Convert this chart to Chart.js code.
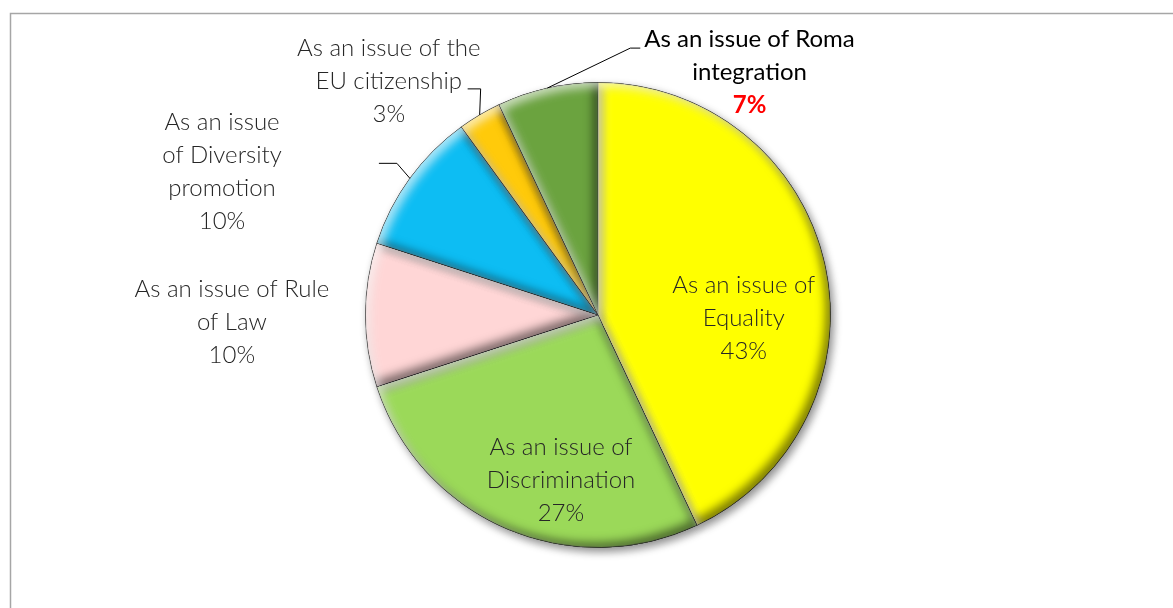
<!DOCTYPE html>
<html>
<head>
<meta charset="utf-8">
<script src="https://cdn.jsdelivr.net/npm/chart.js@4/dist/chart.umd.min.js"></script>
<style>
  body { margin: 0; background: #fff; }
  canvas { display: block; }
</style>
</head>
<body>
<canvas id="chart" width="1173" height="608"></canvas>
<script>
// DATA
const categories = [
  "As an issue of Equality",
  "As an issue of Discrimination",
  "As an issue of Rule of Law",
  "As an issue of Diversity promotion",
  "As an issue of the EU citizenship",
  "As an issue of Roma integration"
];
const shares = [43, 27, 10, 10, 3, 7];
const labelLines = [
  ["As an issue of", "Equality"],
  ["As an issue of", "Discrimination"],
  ["As an issue of Rule", "of Law"],
  ["As an issue", "of Diversity", "promotion"],
  ["As an issue of the", "EU citizenship"],
  ["As an issue of Roma", "integration"]
];
const sliceColors = ["#FFFF00", "#9BD959", "#FFD6D6", "#0DBDF3", "#FFCA0A", "#6BA33F"];

// label placement: angle (deg, canvas) and distance as fraction of radius
const labelPos = [[1.2, 0.627], [102.6, 0.73], [178.9, 1.575], [200.8, 1.73], [228.2, 1.35], [-58, 1.23]];
// leader lines: elbow offset from slice edge, then horizontal run
const leaders = [null, null, null, [-13, -15, -18], [1, -26, -13], [83, -40, 10]];

const FONT = "Lato, 'Open Sans', sans-serif";

function arcPath(ctx, a) {
  ctx.moveTo(a.x, a.y);
  ctx.arc(a.x, a.y, a.outerRadius, a.startAngle, a.endAngle);
  ctx.closePath();
}

// drop shadow under the pie
const shadowPlugin = {
  id: "shadow",
  beforeDatasetsDraw(chart) {
    const ctx = chart.ctx;
    ctx.save();
    ctx.shadowColor = "rgba(0,0,0,0.45)";
    ctx.shadowBlur = 9;
    ctx.shadowOffsetX = 3;
    ctx.shadowOffsetY = 4;
  },
  afterDatasetsDraw(chart) {
    chart.ctx.restore();
  }
};

// bevel look via inner shadows
const bevelPlugin = {
  id: "bevel",
  afterDatasetsDraw(chart) {
    const ctx = chart.ctx;
    chart.getDatasetMeta(0).data.forEach(el => {
      const a = el.getProps(["x", "y", "startAngle", "endAngle", "outerRadius"], true);
      [["rgba(0,0,0,0.5)", -5, -5], ["rgba(255,255,255,0.65)", 5, 5]].forEach(s => {
        ctx.save();
        ctx.beginPath();
        arcPath(ctx, a);
        ctx.clip();
        ctx.beginPath();
        ctx.rect(-2000, -2000, 5000, 5000);
        arcPath(ctx, a);
        ctx.shadowColor = s[0];
        ctx.shadowBlur = 10;
        ctx.shadowOffsetX = s[1];
        ctx.shadowOffsetY = s[2];
        ctx.fillStyle = "#000";
        ctx.fill("evenodd");
        ctx.restore();
      });
    });
  }
};

// labels and leader lines
const labelPlugin = {
  id: "labels",
  afterDraw(chart) {
    const ctx = chart.ctx;
    const meta = chart.getDatasetMeta(0);
    const total = shares.reduce((s, v) => s + v, 0);
    meta.data.forEach((el, i) => {
      const a = el.getProps(["x", "y", "startAngle", "endAngle", "outerRadius"], true);
      const r = a.outerRadius;
      const ang = labelPos[i][0] * Math.PI / 180;
      const cx = a.x + Math.cos(ang) * r * labelPos[i][1];
      const cy = a.y + Math.sin(ang) * r * labelPos[i][1];
      const pct = Math.round(shares[i] / total * 100) + "%";
      const lines = labelLines[i].concat([pct]);
      const lh = 33;
      const top = cy - (lines.length - 1) * lh / 2;
      const roma = i === 5;

      ctx.save();
      ctx.textAlign = "center";
      ctx.textBaseline = "middle";
      lines.forEach((t, k) => {
        const isPct = k === lines.length - 1;
        if (roma) {
          ctx.fillStyle = isPct ? "#FF0000" : "#000";
          ctx.font = (isPct ? "700 " : "400 ") + "24px " + FONT;
        } else {
          ctx.fillStyle = "#262626";
          ctx.font = "300 24px " + FONT;
        }
        ctx.fillText(t, cx, top + k * lh);
      });
      ctx.restore();

      const ld = leaders[i];
      if (ld) {
        const mid = (a.startAngle + a.endAngle) / 2;
        const ex = a.x + Math.cos(mid) * r;
        const ey = a.y + Math.sin(mid) * r;
        ctx.save();
        ctx.strokeStyle = "#000";
        ctx.lineWidth = 1;
        ctx.beginPath();
        ctx.moveTo(ex, ey);
        ctx.lineTo(ex + ld[0], ey + ld[1]);
        ctx.lineTo(ex + ld[0] + ld[2], ey + ld[1]);
        ctx.stroke();
        ctx.restore();
      }
    });

    // chart frame
    ctx.save();
    ctx.strokeStyle = "#A6A6A6";
    ctx.lineWidth = 1.5;
    ctx.beginPath();
    ctx.moveTo(10.5, 608);
    ctx.lineTo(10.5, 13.5);
    ctx.lineTo(1173, 13.5);
    ctx.stroke();
    ctx.restore();
  }
};

const chart = new Chart(document.getElementById("chart").getContext("2d"), {
  type: "pie",
  data: {
    labels: categories,
    datasets: [{
      data: shares,
      backgroundColor: sliceColors,
      borderColor: "rgba(60,60,60,0.6)",
      borderWidth: 1
    }]
  },
  options: {
    responsive: false,
    animation: false,
    layout: { padding: { left: 365, right: 342, top: 82, bottom: 60 } },
    plugins: {
      legend: { display: false },
      tooltip: { enabled: false }
    }
  },
  plugins: [shadowPlugin, bevelPlugin, labelPlugin]
});
</script>
</body>
</html>
